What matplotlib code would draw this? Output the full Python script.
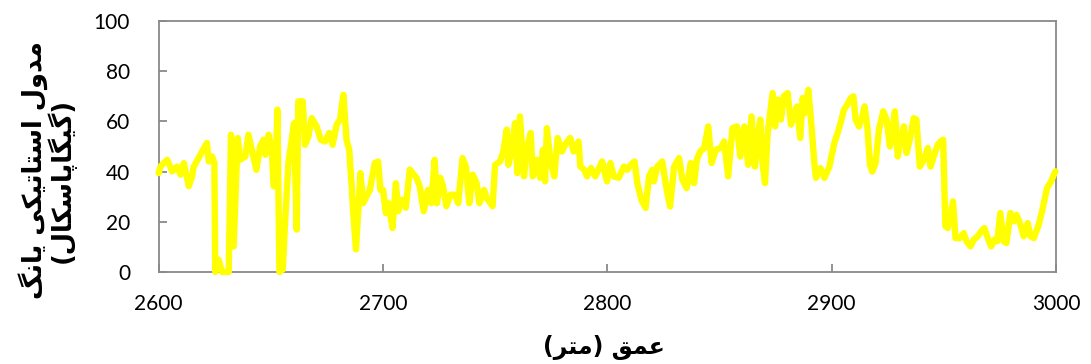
import matplotlib
matplotlib.use('Agg')
import matplotlib.pyplot as plt

# depth (m) and static Young's modulus (GPa)
depth = [
    2600.1, 2600.9, 2603.9, 2606.1, 2608.3, 2609.8, 2611.3, 2613.5, 2615.0, 2615.7,
    2617.9, 2619.4, 2621.6, 2622.4, 2623.9, 2624.9, 2625.3, 2626.8, 2628.3, 2631.3,
    2632.3, 2633.5, 2635.3, 2636.4, 2638.7, 2640.1, 2641.6, 2643.6, 2645.3, 2646.8,
    2647.6, 2649.1, 2650.5, 2651.3, 2652.0, 2653.0, 2653.9, 2655.4, 2656.4, 2657.9,
    2659.4, 2660.4, 2661.6, 2662.3, 2664.3, 2665.3, 2666.8, 2668.3, 2670.5, 2672.3,
    2674.2, 2676.1, 2677.6, 2679.4, 2680.9, 2682.4, 2683.8, 2685.0, 2686.1, 2686.8,
    2688.0, 2689.0, 2690.0, 2691.2, 2692.7, 2694.2, 2696.4, 2697.9, 2698.9, 2700.1,
    2701.3, 2702.4, 2704.3, 2705.8, 2706.8, 2708.3, 2710.2, 2712.0, 2715.0, 2716.4,
    2718.2, 2720.1, 2721.6, 2723.1, 2724.1, 2725.6, 2726.8, 2728.3, 2730.1, 2732.0,
    2733.6, 2735.5, 2737.0, 2738.5, 2740.0, 2741.8, 2743.0, 2745.1, 2746.3, 2748.9,
    2750.0, 2752.2, 2753.7, 2755.2, 2755.9, 2757.4, 2758.9, 2759.9, 2761.1, 2762.9,
    2764.1, 2765.9, 2766.8, 2768.6, 2770.1, 2771.3, 2772.3, 2773.1, 2774.6, 2776.4,
    2777.9, 2779.8, 2781.7, 2783.5, 2785.0, 2787.2, 2788.0, 2789.8, 2791.0, 2792.8,
    2794.7, 2797.7, 2799.9, 2801.4, 2802.9, 2805.1, 2807.4, 2808.9, 2810.4, 2812.2,
    2813.4, 2815.2, 2817.1, 2818.6, 2820.1, 2820.8, 2822.3, 2824.5, 2826.5, 2828.0,
    2829.8, 2832.0, 2833.5, 2835.4, 2837.2, 2838.7, 2839.9, 2841.4, 2843.2, 2845.0,
    2846.5, 2848.4, 2850.6, 2852.1, 2853.9, 2855.8, 2857.8, 2859.3, 2861.1, 2862.8,
    2864.3, 2865.8, 2867.0, 2868.2, 2869.2, 2870.3, 2871.5, 2873.7, 2874.8, 2876.0,
    2877.4, 2878.6, 2880.4, 2881.9, 2883.4, 2884.6, 2886.0, 2887.1, 2888.1, 2889.6,
    2890.8, 2892.3, 2893.0, 2895.0, 2896.8, 2899.0, 2901.2, 2902.7, 2904.2, 2905.5,
    2907.0, 2908.5, 2909.7, 2910.7, 2912.2, 2913.7, 2914.7, 2915.9, 2917.1, 2918.1,
    2919.6, 2921.1, 2923.0, 2924.5, 2926.0, 2927.0, 2928.2, 2929.5, 2930.7, 2932.2,
    2933.4, 2934.8, 2936.6, 2937.8, 2939.3, 2941.1, 2942.9, 2944.1, 2945.5, 2947.3,
    2948.5, 2949.7, 2950.7, 2951.8, 2953.0, 2954.1, 2955.2, 2957.1, 2958.9, 2960.1,
    2961.9, 2963.4, 2965.1, 2966.6, 2968.1, 2969.3, 2971.1, 2972.6, 2973.8, 2975.2,
    2976.7, 2977.9, 2979.7, 2981.2, 2982.4, 2984.2, 2985.6, 2987.4, 2988.6, 2990.1,
    2992.3, 2993.8, 2996.0, 2997.8, 2999.7,
]
modulus = [
    39.4, 42.1, 44.7, 40.1, 42.0, 38.8, 43.4, 34.2, 38.1, 42.0,
    45.4, 48.0, 51.4, 44.0, 46.0, 43.4, 0.0, 4.9, 0.0, 0.0,
    54.7, 10.2, 53.4, 44.7, 46.0, 54.7, 48.7, 40.7, 50.0, 52.7,
    46.7, 54.7, 48.7, 34.2, 34.2, 64.7, 0.0, 1.0, 19.5, 43.4,
    52.7, 59.3, 16.9, 68.0, 68.0, 50.7, 54.0, 61.3, 58.0, 52.7,
    52.0, 55.4, 50.7, 58.7, 60.7, 70.6, 52.7, 48.7, 34.2, 23.6,
    9.0, 23.6, 39.4, 27.4, 30.1, 32.7, 43.4, 44.0, 32.7, 32.7,
    23.5, 27.5, 17.5, 35.4, 24.2, 28.8, 25.6, 40.8, 37.5, 34.2,
    24.2, 32.7, 27.4, 44.7, 27.4, 37.5, 34.2, 26.2, 30.8, 30.8,
    27.4, 45.4, 42.0, 27.4, 38.8, 35.4, 27.4, 32.7, 29.4, 26.2,
    42.7, 44.0, 48.0, 56.7, 42.7, 48.7, 59.3, 39.4, 62.0, 38.1,
    48.7, 55.4, 38.1, 44.7, 37.5, 48.7, 36.1, 57.3, 44.7, 38.1,
    53.4, 48.0, 51.4, 53.4, 48.0, 52.0, 42.0, 40.7, 38.1, 41.4,
    38.1, 44.0, 36.1, 43.4, 38.1, 37.5, 42.0, 40.7, 42.7, 44.0,
    35.4, 28.8, 25.5, 38.1, 40.7, 36.1, 42.0, 44.0, 32.7, 26.1,
    42.0, 45.4, 36.7, 33.4, 43.4, 35.4, 44.7, 48.0, 49.4, 58.0,
    43.4, 48.7, 49.4, 52.0, 38.1, 57.3, 58.0, 46.0, 58.0, 42.7,
    62.0, 42.0, 53.4, 60.7, 43.4, 35.4, 55.4, 71.3, 58.0, 68.7,
    60.7, 70.0, 71.3, 58.7, 63.3, 66.0, 53.4, 69.3, 63.3, 72.6,
    60.7, 43.4, 37.5, 41.4, 37.5, 42.0, 51.4, 55.4, 60.0, 64.7,
    66.7, 69.3, 70.0, 60.7, 58.0, 62.0, 66.0, 58.0, 42.7, 40.0,
    43.4, 56.7, 64.0, 60.7, 50.0, 55.4, 64.0, 46.0, 52.7, 58.0,
    47.4, 52.7, 61.3, 60.7, 42.0, 44.7, 49.4, 42.0, 46.0, 50.7,
    52.0, 52.7, 18.2, 17.5, 22.8, 28.1, 13.5, 13.5, 15.5, 12.2,
    10.2, 12.9, 14.2, 16.2, 17.5, 14.2, 10.2, 12.9, 12.2, 23.5,
    12.2, 11.5, 23.5, 20.2, 22.8, 18.8, 14.2, 19.5, 14.2, 13.5,
    18.8, 24.2, 33.4, 36.1, 40.1,
]
x_ticks = [2600, 2700, 2800, 2900, 3000]
y_ticks = [0, 20, 40, 60, 80, 100]

Y_LABEL_1 = 'مدول استاتیکی یانگ'
Y_LABEL_2 = '(گیگاپاسکال)'
X_WORD_1 = 'عمق'
X_WORD_2 = 'متر'

# contextual forms: isolated, final, initial, medial (None = right-joining only)
FORMS = {
    'ا': ('\uFE8D', '\uFE8E', None, None),
    'د': ('\uFEA9', '\uFEAA', None, None),
    'ر': ('\uFEAD', '\uFEAE', None, None),
    'و': ('\uFEED', '\uFEEE', None, None),
    'م': ('\uFEE1', '\uFEE2', '\uFEE3', '\uFEE4'),
    'ل': ('\uFEDD', '\uFEDE', '\uFEDF', '\uFEE0'),
    'س': ('\uFEB1', '\uFEB2', '\uFEB3', '\uFEB4'),
    'ت': ('\uFE95', '\uFE96', '\uFE97', '\uFE98'),
    'ن': ('\uFEE5', '\uFEE6', '\uFEE7', '\uFEE8'),
    'ع': ('\uFEC9', '\uFECA', '\uFECB', '\uFECC'),
    'ق': ('\uFED5', '\uFED6', '\uFED7', '\uFED8'),
    'ی': ('\uFBFC', '\uFBFD', '\uFBFE', '\uFBFF'),
    'ک': ('\uFB8E', '\uFB8F', '\uFB90', '\uFB91'),
    'گ': ('\uFB92', '\uFB93', '\uFB94', '\uFB95'),
    'پ': ('\uFB56', '\uFB57', '\uFB58', '\uFB59'),
}
MIRROR = {'(': ')', ')': '('}


def shape(text):
    """Join letters and return the string in visual (left-to-right) order."""
    out = []
    for i, ch in enumerate(text):
        if ch not in FORMS:
            out.append(ch)
            continue
        iso, fin, ini, med = FORMS[ch]
        prev_joins = i > 0 and text[i - 1] in FORMS and FORMS[text[i - 1]][2] is not None
        next_joins = (ini is not None and i + 1 < len(text) and text[i + 1] in FORMS)
        if prev_joins and next_joins:
            out.append(med)
        elif prev_joins:
            out.append(fin)
        elif next_joins:
            out.append(ini)
        else:
            out.append(iso)
    return ''.join(MIRROR.get(c, c) for c in reversed(out))


W, H = 1091, 364
fig = plt.figure(figsize=(W / 100, H / 100), dpi=100)
ax = fig.add_axes([158.5 / W, 1 - 272 / H, (1056 - 158.5) / W, (272 - 21) / H])

ax.plot(depth, modulus, color='#FFFF00', linewidth=4.6,
        solid_joinstyle='round', solid_capstyle='round', clip_on=False, zorder=3)

ax.set_xlim(2600, 3000)
ax.set_ylim(0, 100)
ax.set_xticks(x_ticks)
ax.set_yticks(y_ticks)
for s in ax.spines.values():
    s.set_color('#898989')
    s.set_linewidth(1.3)
ax.tick_params(direction='in', length=6, width=1.3, color='#898989',
               labelsize=15, labelcolor='black')
ax.tick_params(axis='x', pad=16)
ax.tick_params(axis='y', pad=20.5)
for lab in ax.get_xticklabels() + ax.get_yticklabels():
    lab.set_family(['Lato', 'DejaVu Sans'])

arab = dict(family='DejaVu Sans', weight='bold', color='black')
fig.text(33 / W, 1 - 170 / H, shape(Y_LABEL_1), rotation=90, fontsize=18.5,
         ha='center', va='center', **arab)
fig.text(61 / W, 1 - 180 / H, shape(Y_LABEL_2), rotation=90, fontsize=18.5,
         ha='center', va='center', **arab)
# unit in parentheses sits to the left, the word on the right (right-to-left)
fig.text(604 / W, 1 - 348 / H, '(' + shape(X_WORD_2) + ') ' + shape(X_WORD_1),
         fontsize=17, ha='center', va='center', **arab)

fig.savefig('out.png', dpi=100)
